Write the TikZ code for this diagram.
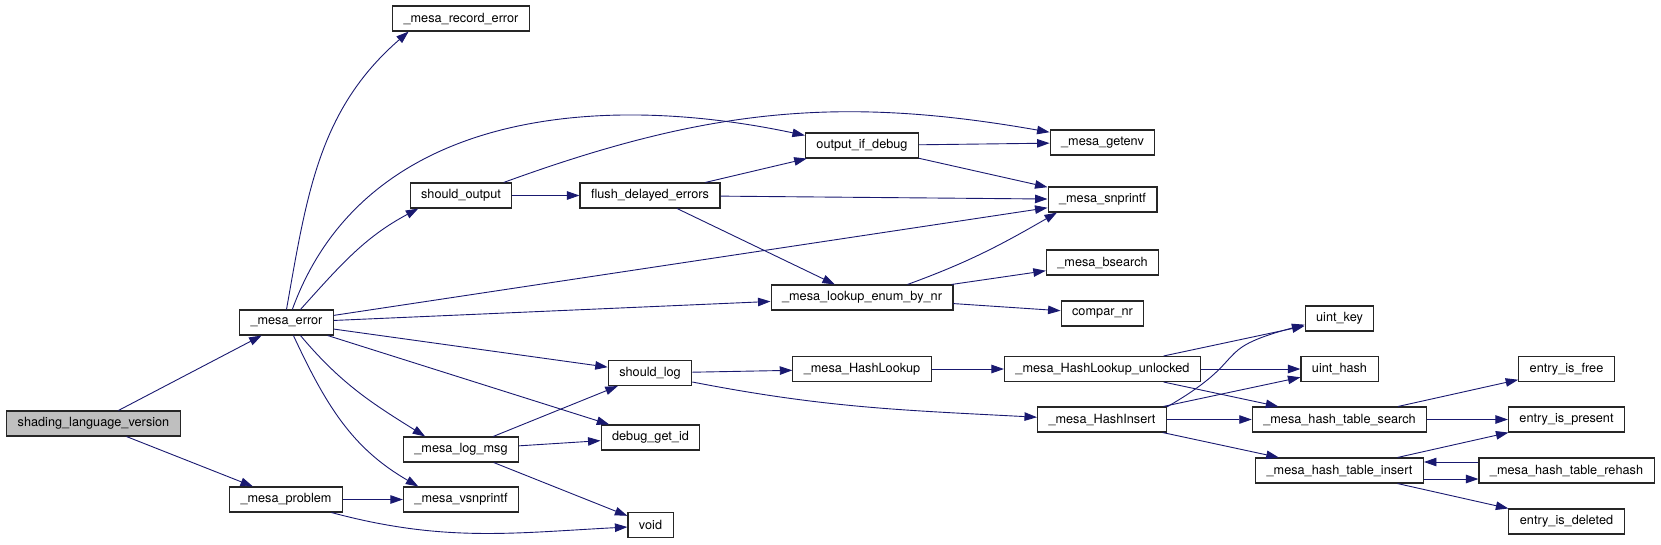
\documentclass[tikz,border=0pt]{standalone}
\usepackage{fontspec}
\setmainfont{TeX Gyre Heros}
\usepackage{tikz}
\usetikzlibrary{arrows.meta, positioning, calc}
\definecolor{callblue}{RGB}{25, 25, 112}
\definecolor{rootgray}{RGB}{191, 191, 191}

\begin{document}
\begin{tikzpicture}[
    x=1pt, y=1pt,
    fn/.style={draw=black!85, line width=1.1pt, fill=white, minimum height=25pt, inner xsep=11pt, inner ysep=0pt, font=\fontsize{12.7pt}{15pt}\selectfont},
    root/.style={fn, fill=rootgray},
    arrow/.style={-{Triangle[length=12.5pt, width=8.5pt]}, line width=0.9pt, callblue}
]
    \useasboundingbox (0,0) rectangle (1661,-544);

    % --- CALLER ---
    \node[root] (slv) at (93.5,-423.5) {shading\_language\_version};

    % --- FIRST LEVEL ---
    \node[fn] (err) at (286.5,-322.5) {\_mesa\_error};
    \node[fn] (prob) at (286,-499.5) {\_mesa\_problem};

    % --- SECOND LEVEL ---
    \node[fn] (rec) at (461,-18.5) {\_mesa\_record\_error};
    \node[fn] (sout) at (461,-195.5) {should\_output};
    \node[fn] (logm) at (461,-449.5) {\_mesa\_log\_msg};
    \node[fn] (vsn) at (461,-499.5) {\_mesa\_vsnprintf};

    % --- THIRD LEVEL ---
    \node[fn] (flush) at (650,-195.5) {flush\_delayed\_errors};
    \node[fn] (slog) at (650,-373) {should\_log};
    \node[fn] (dbg) at (650.5,-437.5) {debug\_get\_id};
    \node[fn] (void) at (650.5,-525) {void};

    % --- FOURTH LEVEL ---
    \node[fn] (oid) at (862,-145.5) {output\_if\_debug};
    \node[fn] (lenum) at (862,-297.5) {\_mesa\_lookup\_enum\_by\_nr};
    \node[fn] (hlook) at (862,-369) {\_mesa\_HashLookup};

    % --- FIFTH LEVEL ---
    \node[fn] (getenv) at (1102.5,-142.5) {\_mesa\_getenv};
    \node[fn] (snpr) at (1102.5,-199.5) {\_mesa\_snprintf};
    \node[fn] (bsearch) at (1102.5,-262.5) {\_mesa\_bsearch};
    \node[fn] (compar) at (1102.5,-313.5) {compar\_nr};
    \node[fn] (hlu) at (1102.5,-369) {\_mesa\_HashLookup\_unlocked};
    \node[fn] (hins) at (1102,-419.5) {\_mesa\_HashInsert};

    % --- HASH TABLE ---
    \node[fn] (ukey) at (1339.5,-318.5) {uint\_key};
    \node[fn] (uhash) at (1339.5,-369) {uint\_hash};
    \node[fn] (hts) at (1339.5,-419.5) {\_mesa\_hash\_table\_search};
    \node[fn] (hti) at (1339.5,-470.5) {\_mesa\_hash\_table\_insert};

    \node[fn] (efree) at (1566.5,-369) {entry\_is\_free};
    \node[fn] (epresent) at (1566.5,-419.5) {entry\_is\_present};
    \node[fn] (rehash) at (1566.5,-470.5) {\_mesa\_hash\_table\_rehash};
    \node[fn] (edeleted) at (1566.5,-521.5) {entry\_is\_deleted};

    % --- CALLS FROM THE LEFT ---
    \draw[arrow] (slv) -- (err);
    \draw[arrow] (slv) -- (prob);

    \draw[arrow] (err.north) to[out=80, in=221] (rec.194);
    \draw[arrow] (err.66) to[out=70, in=168] (oid.170);
    \draw[arrow] (err.43) to[out=48, in=208] (sout.197);
    \draw[arrow] (err) -- (snpr);
    \draw[arrow] (err) -- (lenum);
    \draw[arrow] (err) -- (slog);
    \draw[arrow] (err) -- (dbg);
    \draw[arrow] (err.-43) to[out=-50, in=148] (logm.160);
    \draw[arrow] (err.-62) to[out=-65, in=150] (vsn.163);

    \draw[arrow] (prob) -- (vsn);
    \draw[arrow] (prob.-16) to[out=-15, in=183] (void.185);

    % --- MIDDLE ---
    \draw[arrow] (logm) -- (slog);
    \draw[arrow] (logm) -- (dbg);
    \draw[arrow] (logm) -- (void);

    \draw[arrow] (sout) -- (flush);
    \draw[arrow] (sout.17) to[out=20, in=170] (getenv.169);

    \draw[arrow] (flush) -- (oid);
    \draw[arrow] (flush) -- (snpr);
    \draw[arrow] (flush) -- (lenum);

    \draw[arrow] (oid) -- (getenv);
    \draw[arrow] (oid) -- (snpr);

    \draw[arrow] (lenum.16) to[out=20, in=210] (snpr.196);
    \draw[arrow] (lenum) -- (bsearch);
    \draw[arrow] (lenum) -- (compar);

    \draw[arrow] (slog) -- (hlook);
    \draw[arrow] (slog.-12) to[out=-11, in=177] (hins.178);
    \draw[arrow] (hlook) -- (hlu);

    % --- HASH CALLS ---
    \draw[arrow] (hlu) -- (ukey);
    \draw[arrow] (hlu) -- (uhash);
    \draw[arrow] (hlu) -- (hts);

    \draw[arrow] (hins.11) to[out=30, in=195, looseness=1.6] (ukey.190);
    \draw[arrow] (hins) -- (uhash);
    \draw[arrow] (hins) -- (hts);
    \draw[arrow] (hins) -- (hti);

    \draw[arrow] (hts) -- (efree);
    \draw[arrow] (hts) -- (epresent);
    \draw[arrow] (hti) -- (epresent);
    \draw[arrow] ([yshift=-8.5pt]hti.east) -- ([yshift=-8.5pt]rehash.west);
    \draw[arrow] ([yshift=8.5pt]rehash.west) -- ([yshift=8.5pt]hti.east);
    \draw[arrow] (hti) -- (edeleted);

\end{tikzpicture}
\end{document}
